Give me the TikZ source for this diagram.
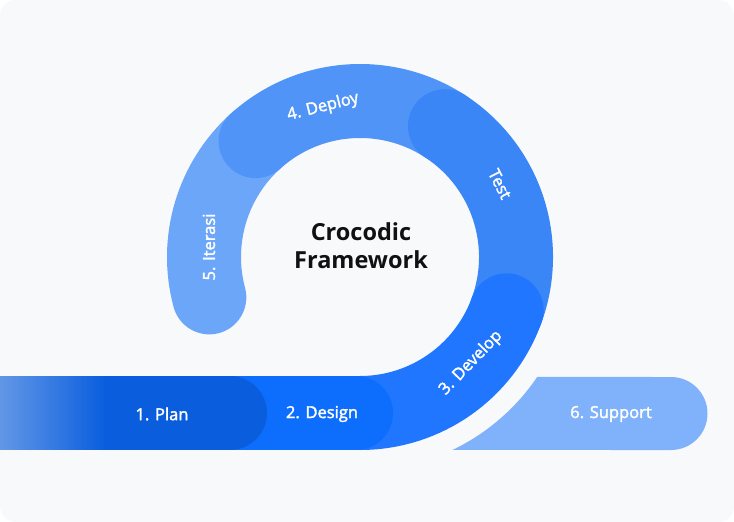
\documentclass[tikz,border=0pt]{standalone}
\usepackage{fontspec}
\setmainfont{Open Sans}
\newfontfamily\labelfont{Open Sans}[FakeBold=2]
\usetikzlibrary{calc}

\newlength{\du}
\setlength{\du}{1pt}

\definecolor{bgcolor}{HTML}{F8F9FB}
\definecolor{planlight}{HTML}{6297E6}
\definecolor{plancolor}{HTML}{0A5EDE}
\definecolor{designcolor}{HTML}{0D6EFD}
\definecolor{developcolor}{HTML}{2076FE}
\definecolor{testcolor}{HTML}{3A86F6}
\definecolor{deploycolor}{HTML}{5094F8}
\definecolor{iterasicolor}{HTML}{6BA6F9}
\definecolor{supportcolor}{HTML}{80B2FB}
\definecolor{titlecolor}{HTML}{111111}

\tikzset{
  band/.style={line width=74\du, line cap=round},
  steplabel/.style={text=white, inner sep=0pt, outer sep=0pt, font=\labelfont\fontsize{16.5}{20}\selectfont},
  titlelabel/.style={text=titlecolor, align=center, inner sep=0pt, font=\fontsize{23.5}{28}\selectfont\bfseries}
}

\begin{document}
\begin{tikzpicture}
\pgftransformyscale{-1.000000}
\useasboundingbox (0\du,0\du) rectangle (734\du,522\du);
\fill[white] (0\du,0\du) rectangle (734\du,522\du);
\fill[bgcolor,rounded corners=16\du] (0\du,0\du) rectangle (734\du,522\du);
\clip[rounded corners=16\du] (0\du,0\du) rectangle (734\du,522\du);
% centre of the spiral
\coordinate (C) at (360\du,257\du);
% spiral, last step first
\draw[band,iterasicolor] ($(C)+(-132:156\du)$) arc[start angle=-132, end angle=-195, radius=156\du];
\draw[band,deploycolor] ($(C)+(-57:156\du)$) arc[start angle=-57, end angle=-132, radius=156\du];
\draw[band,testcolor] ($(C)+(20:156\du)$) arc[start angle=20, end angle=-57, radius=156\du];
\draw[band,developcolor] ($(C)+(90:156\du)$) arc[start angle=90, end angle=20, radius=156\du];
\draw[band,designcolor] (230\du,413\du)--(356\du,413\du);
\draw[band,plancolor] (-40\du,413\du)--(230\du,413\du);
\shade[left color=planlight,right color=plancolor] (0\du,376.3\du) rectangle (105\du,449.7\du);
% support
\fill[supportcolor] ($(C)+(64.4:214\du)$) arc[start angle=64.4, end angle=34.1, radius=214\du]
  --(671\du,377\du) arc[start angle=-90, end angle=90, radius=36.5\du] --cycle;
% labels
\node[steplabel] (plan) at (162\du,414\du) {1. Plan};
\node[steplabel] (design) at (322\du,414\du) {2. Design};
\node[steplabel,rotate=46] (develop) at (471\du,363\du) {3. Develop};
\node[steplabel,rotate=-63] (test) at (500\du,184\du) {Test};
\node[steplabel,rotate=14] (deploy) at (323\du,107\du) {4. Deploy};
\node[steplabel,rotate=90] (iterasi) at (209\du,247\du) {5. Iterasi};
\node[steplabel] (support) at (611\du,414\du) {6. Support};
\node[titlelabel] (title) at (361\du,246\du) {Crocodic\\Framework};
\end{tikzpicture}
\end{document}
